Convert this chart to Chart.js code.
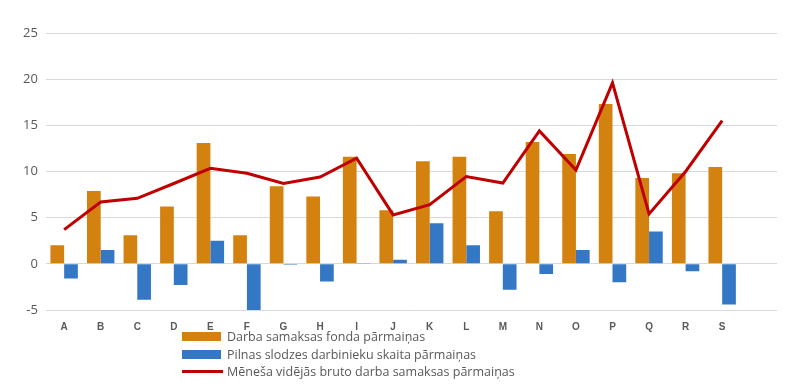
<!DOCTYPE html>
<html>
<head>
<meta charset="utf-8">
<script src="https://cdn.jsdelivr.net/npm/chart.js@4"></script>
<style>
  html, body { margin: 0; padding: 0; background: #fff; }
  #wrap { position: relative; width: 794px; height: 386px; }
  #legend { position: absolute; left: 182px; top: 328px; font-family: "Open Sans", "Noto Sans", sans-serif; font-size: 12.5px; color: #595959; }
  .item { height: 17.5px; display: flex; align-items: center; white-space: nowrap; }
  .sw { width: 39px; height: 9px; margin-right: 6px; flex: none; }
  .ln { width: 41px; height: 3px; margin-right: 4px; flex: none; background: #C00000; }
</style>
</head>
<body>
<div id="wrap">
  <canvas id="c" width="794" height="386"></canvas>
  <div id="legend"></div>
</div>
<script>
const categories = ["A","B","C","D","E","F","G","H","I","J","K","L","M","N","O","P","Q","R","S",""];
const seriesNames = ["Darba samaksas fonda pārmaiņas","Pilnas slodzes darbinieku skaita pārmaiņas","Mēneša vidējās bruto darba samaksas pārmaiņas"];
const wageFund = [2.0, 7.9, 3.1, 6.2, 13.1, 3.1, 8.4, 7.3, 11.6, 5.8, 11.1, 11.6, 5.7, 13.2, 11.9, 17.3, 9.3, 9.8, 10.5, null];
const employees = [-1.6, 1.5, -3.9, -2.3, 2.5, -5.1, -0.1, -1.9, 0.1, 0.45, 4.4, 2.0, -2.8, -1.1, 1.5, -2.0, 3.5, -0.8, -4.4, null];
const avgWage = [3.7, 6.7, 7.1, 8.7, 10.35, 9.8, 8.7, 9.4, 11.45, 5.3, 6.4, 9.45, 8.75, 14.4, 10.15, 19.6, 5.4, 10.0, 15.5, null];
const yTicks = [-5, 0, 5, 10, 15, 20, 25];

const colors = ["#D4820F", "#3478C5", "#C00000"];

new Chart(document.getElementById("c"), {
  data: {
    labels: categories,
    datasets: [
      { type: "line", label: seriesNames[2], data: avgWage, borderColor: colors[2], backgroundColor: colors[2], borderWidth: 3, pointRadius: 0, tension: 0, order: 0, spanGaps: false },
      { type: "bar", label: seriesNames[0], data: wageFund, backgroundColor: colors[0], categoryPercentage: 0.75, barPercentage: 1.0, order: 1 },
      { type: "bar", label: seriesNames[1], data: employees, backgroundColor: colors[1], categoryPercentage: 0.75, barPercentage: 1.0, order: 2 }
    ]
  },
  options: {
    responsive: false,
    animation: false,
    layout: { padding: { left: 15, right: 17, top: 33, bottom: 42 } },
    plugins: { legend: { display: false }, tooltip: { enabled: false } },
    scales: {
      x: {
        grid: { display: false, drawTicks: false },
        border: { display: false },
        ticks: { color: "#595959", font: { family: "Liberation Sans, Arial, sans-serif", size: 10, weight: "bold" }, padding: 11, maxRotation: 0, autoSkip: false }
      },
      y: {
        min: -5, max: 25,
        afterBuildTicks: (axis) => { axis.ticks = yTicks.map(v => ({ value: v })); },
        grid: { color: "#D9D9D9", lineWidth: 1, drawTicks: false },
        border: { display: false },
        ticks: { color: "#595959", font: { family: "Open Sans, Noto Sans, sans-serif", size: 13 }, padding: 8 }
      }
    }
  }
});

const legendItems = [
  { name: seriesNames[0], color: colors[0], kind: "box" },
  { name: seriesNames[1], color: colors[1], kind: "box" },
  { name: seriesNames[2], color: colors[2], kind: "line" }
];
const lg = document.getElementById("legend");
legendItems.forEach(it => {
  const row = document.createElement("div");
  row.className = "item";
  const sw = document.createElement("span");
  sw.className = it.kind === "box" ? "sw" : "ln";
  sw.style.background = it.color;
  const tx = document.createElement("span");
  tx.textContent = it.name;
  row.appendChild(sw); row.appendChild(tx);
  lg.appendChild(row);
});
</script>
</body>
</html>
